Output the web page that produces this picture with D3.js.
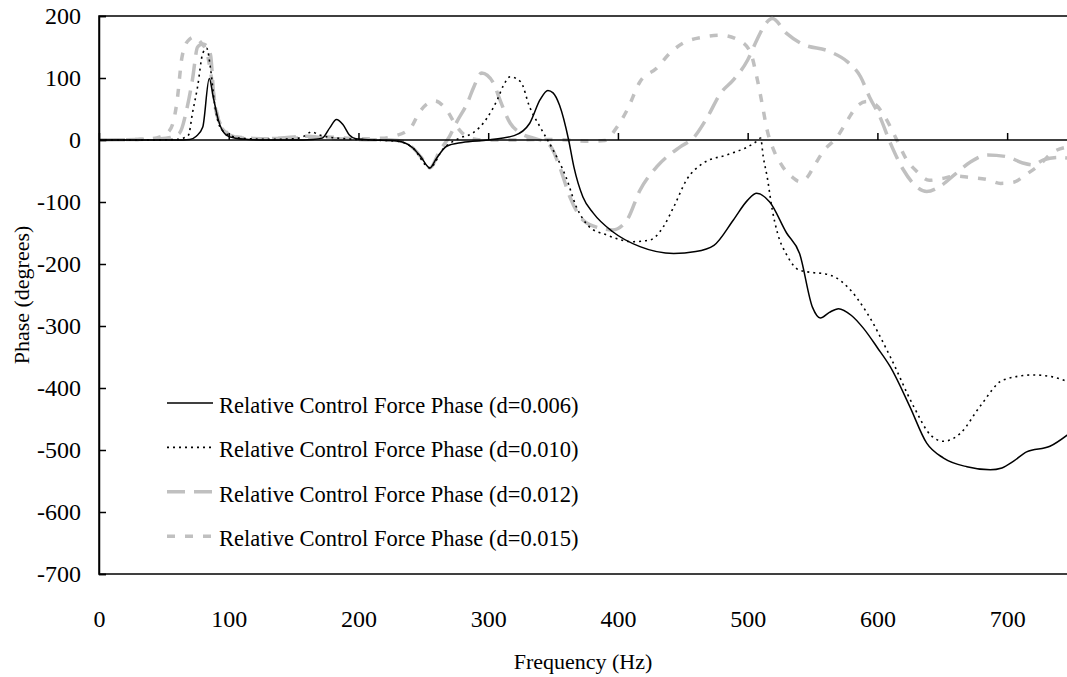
<!DOCTYPE html>
<html>
<head>
<meta charset="utf-8">
<script src="https://cdn.jsdelivr.net/npm/d3@7"></script>
<style>
  body { margin: 0; background: #fff; }
  text { font-family: "Liberation Serif", "Times New Roman", serif; fill: #000; }
</style>
</head>
<body>
<div id="chart"></div>
<script>
// frequency (Hz) / phase (degrees) pairs, one set per damping value
const freq006 = [0,20,40,60,70,75,80,85,88,92,98,105,115,130,150,165,172,178,183,188,193,198,210,225,235,242,248,255,260,268,280,300,320,332,340,346,350,355,362,366,373,381,396,417,443,460,474,489,500,507,517,530,540,550,556,563,570,580,589,600,610,625,638,651,669,687,696,705,715,733,750];
const phase006 = [0,0,0,0,1,6,21,99,70,32,8,3,1,0,0,1,3,20,33,25,8,2,0,-1,-4,-13,-27,-45,-30,-10,-4,0,7,27,65,80,76,56,0,-43,-92,-118,-148,-172,-183,-180,-170,-129,-97,-86,-100,-150,-183,-270,-287,-278,-272,-283,-303,-335,-366,-430,-489,-513,-527,-532,-529,-518,-503,-494,-470];

const freq010 = [0,40,60,65,69,72,76,80,83,86,89,93,100,110,130,150,157,164,170,176,190,210,230,242,255,265,278,288,299,307,312,317,325,332,340,350,360,368,378,391,412,425,435,443,453,466,484,500,507,510,512,515,519,523,530,540,551,560,568,577,592,610,628,641,651,664,679,697,720,735,750];
const phase010 = [0,0,1,3,8,43,86,140,148,115,60,22,8,3,1,2,5,13,8,5,2,0,-2,-13,-45,-15,3,11,35,65,89,102,94,53,21,-16,-60,-108,-140,-153,-164,-161,-140,-108,-64,-37,-24,-11,-2,3,-27,-59,-113,-150,-185,-210,-214,-216,-222,-237,-279,-350,-430,-476,-486,-473,-430,-387,-379,-382,-393];

const freq012 = [0,30,47,55,62,68,72,76,80,83,86,89,95,105,130,145,160,175,200,225,235,242,248,255,263,270,276,284,289,295,304,309,317,325,335,340,348,355,363,373,386,396,407,417,430,448,458,469,479,489,500,507,513,519,530,541,564,577,587,594,602,610,620,630,638,648,660,672,685,700,712,720,728,740,750];
const phase012 = [0,1,2,4,11,53,97,150,155,152,137,60,21,5,2,4,6,3,1,0,-3,-13,-27,-45,-16,5,30,60,86,108,92,65,27,11,3,0,-10,-43,-92,-129,-142,-145,-129,-81,-43,-11,3,37,75,97,129,161,185,196,172,156,142,126,102,69,37,-5,-48,-75,-83,-75,-55,-35,-24,-27,-37,-40,-32,-28,-30];

const freq015 = [0,30,40,47,53,57,60,64,66,70,73,79,83,86,89,95,105,120,150,175,200,220,227,240,247,259,268,276,284,295,320,340,360,375,390,399,407,417,430,440,450,466,479,493,502,507,511,515,520,527,535,540,546,551,558,569,577,584,592,598,605,615,622,630,640,650,660,670,685,695,705,715,725,735,750];
const phase015 = [0,1,2,5,12,27,60,134,150,163,166,156,142,110,65,18,5,2,3,5,2,3,6,19,45,63,48,21,5,0,0,1,0,-2,-1,20,48,94,116,140,156,166,169,161,142,102,60,16,-16,-43,-61,-67,-60,-43,-19,5,32,54,62,58,40,0,-30,-50,-65,-62,-58,-60,-64,-70,-68,-55,-40,-20,-10];

const seriesNames = [
  "Relative Control Force Phase (d=0.006)",
  "Relative Control Force Phase (d=0.010)",
  "Relative Control Force Phase (d=0.012)",
  "Relative Control Force Phase (d=0.015)"
];
const xTicks = [0, 100, 200, 300, 400, 500, 600, 700];
const yTicks = [200, 100, 0, -100, -200, -300, -400, -500, -600, -700];

const width = 1067, height = 677;
const margin = { top: 16, left: 99 };
const plotRight = 1072;   // right border sits just past the visible edge
const plotBottom = 574;

const svg = d3.select("#chart").append("svg")
  .attr("width", width)
  .attr("height", height);

const x = d3.scaleLinear().domain([0, 750]).range([margin.left, plotRight]);
const y = d3.scaleLinear().domain([-700, 200]).range([plotBottom, margin.top]);

// line styles per series
const styles = [
  { color: "#000", width: 1.5, dash: null },
  { color: "#000", width: 1.6, dash: "2,4" },
  { color: "#c0c0c0", width: 3.5, dash: "18,9" },
  { color: "#c0c0c0", width: 3.5, dash: "8,10" }
];

const series = [
  freq006.map((f, i) => ({ f, v: phase006[i] })),
  freq010.map((f, i) => ({ f, v: phase010[i] })),
  freq012.map((f, i) => ({ f, v: phase012[i] })),
  freq015.map((f, i) => ({ f, v: phase015[i] }))
];

svg.append("clipPath").attr("id", "plot-clip")
  .append("rect")
  .attr("x", margin.left).attr("y", margin.top)
  .attr("width", plotRight - margin.left).attr("height", plotBottom - margin.top);

// plot border (top / bottom / right)
svg.append("rect")
  .attr("x", margin.left).attr("y", margin.top)
  .attr("width", plotRight - margin.left).attr("height", plotBottom - margin.top)
  .attr("fill", "none").attr("stroke", "#000").attr("stroke-width", 1.5);

const line = d3.line()
  .x(d => x(d.f))
  .y(d => y(d.v))
  .curve(d3.curveMonotoneX);

// gray series drawn first so the black ones sit on top
const order = [3, 2, 1, 0];
svg.append("g").attr("clip-path", "url(#plot-clip)")
  .selectAll("path")
  .data(order)
  .enter().append("path")
  .attr("d", i => line(series[i]))
  .attr("fill", "none")
  .attr("stroke", i => styles[i].color)
  .attr("stroke-width", i => styles[i].width)
  .attr("stroke-dasharray", i => styles[i].dash)
  .attr("stroke-linejoin", "round");

// y axis, ticks pointing inward
const yAxis = svg.append("g")
  .attr("transform", `translate(${margin.left},0)`)
  .call(d3.axisLeft(y).tickValues(yTicks).tickSize(-7).tickPadding(18).tickFormat(d3.format("d")));
yAxis.select(".domain").attr("stroke", "#000").attr("stroke-width", 1.5);
yAxis.selectAll(".tick line").attr("stroke", "#000").attr("stroke-width", 1.5);
yAxis.selectAll("text").style("font-size", "24px").attr("fill", "#000")
  .text(d => d < 0 ? "-" + Math.abs(d) : d);

// x axis crosses at phase 0, ticks point up
const xAxis = svg.append("g")
  .attr("transform", `translate(0,${y(0)})`)
  .call(d3.axisBottom(x).tickValues(xTicks).tickSize(-7).tickFormat(""));
xAxis.select(".domain").attr("d", `M${margin.left},0H${plotRight}`)
  .attr("stroke", "#000").attr("stroke-width", 1.5);
xAxis.selectAll(".tick line").attr("stroke", "#000").attr("stroke-width", 1.5);

// x tick labels sit below the plot
const xLabels = svg.append("g")
  .attr("transform", `translate(0,${plotBottom})`)
  .call(d3.axisBottom(x).tickValues(xTicks).tickSize(0).tickPadding(36));
xLabels.select(".domain").remove();
xLabels.selectAll("text").style("font-size", "24px").attr("fill", "#000");

// axis titles
svg.append("text")
  .attr("x", 583).attr("y", 669)
  .attr("text-anchor", "middle")
  .style("font-size", "22px")
  .text("Frequency (Hz)");

svg.append("text")
  .attr("transform", `translate(29,295) rotate(-90)`)
  .attr("text-anchor", "middle")
  .style("font-size", "22px")
  .text("Phase (degrees)");

// legend
const legend = svg.append("g").attr("transform", "translate(167,403)");
const rows = legend.selectAll("g")
  .data(seriesNames)
  .enter().append("g")
  .attr("transform", (d, i) => `translate(0,${i * 44.4})`);
rows.append("line")
  .attr("x1", 0).attr("x2", 46)
  .attr("y1", 0).attr("y2", 0)
  .attr("stroke", (d, i) => styles[i].color)
  .attr("stroke-width", (d, i) => styles[i].width)
  .attr("stroke-dasharray", (d, i) => styles[i].dash);
rows.append("text")
  .attr("x", 52).attr("y", 10)
  .style("font-size", "22.5px")
  .text(d => d);
</script>
</body>
</html>
